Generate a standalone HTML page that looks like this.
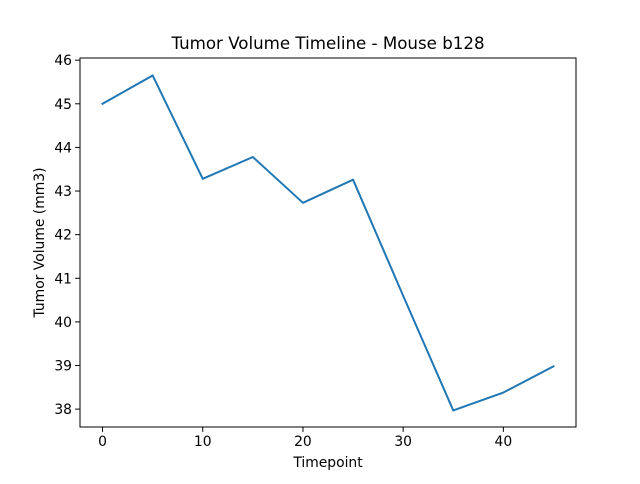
<!DOCTYPE html>
<html><head><meta charset="utf-8"><style>
body{margin:0;background:#fff;font-family:"DejaVu Sans","Liberation Sans",sans-serif;}
svg text{font-family:"DejaVu Sans","Liberation Sans",sans-serif;fill:#000;}
</style></head><body>
<svg id="chart" width="640" height="480">
<rect width="640" height="480" fill="#fff"/>
<text x="328" y="49" font-size="16.67" text-anchor="middle">Tumor Volume Timeline - Mouse b128</text>
<text x="328" y="467" font-size="13.89" text-anchor="middle">Timepoint</text>
<text transform="translate(44,242.5) rotate(-90)" font-size="13.89" text-anchor="middle">Tumor Volume (mm3)</text>
<g id="ticks"></g>
<path id="line" fill="none" stroke="#1f77b4" stroke-width="2" stroke-linejoin="round" stroke-linecap="square"/>
<rect x="80" y="58" width="496" height="369" fill="none" stroke="#000" stroke-width="1"/>
</svg>
<script>
const timepoints=[0,5,10,15,20,25,30,35,40,45];
const volumes=[45.0,45.65,43.28,43.78,42.73,43.26,40.6,37.97,38.38,38.98];
const xTicks=[0,10,20,30,40];
const yTicks=[38,39,40,41,42,43,44,45,46];
const L=80,R=576,T=58,B=427,xmin=-2.25,xmax=47.25,ymin=37.59,ymax=46.05;
function sx(v){return L+(v-xmin)/(xmax-xmin)*(R-L);}
function sy(v){return B-(v-ymin)/(ymax-ymin)*(B-T);}
const ns="http://www.w3.org/2000/svg",g=document.getElementById('ticks');
function mk(t,a){const e=document.createElementNS(ns,t);for(const k in a)e.setAttribute(k,a[k]);g.appendChild(e);return e;}
xTicks.forEach(v=>{const x=sx(v);
const l=mk('line',{x1:x,x2:x,y1:B,y2:B+4.9,stroke:'#000','stroke-width':1});


const t=mk('text',{x:x,y:B+19,'font-size':13.89,'text-anchor':'middle'});t.textContent=v;

});
yTicks.forEach(v=>{const y=sy(v);
const l=mk('line',{x1:L-4.9,x2:L,y1:y,y2:y,stroke:'#000','stroke-width':1});


const t=mk('text',{x:L-8,y:y+5,'font-size':13.89,'text-anchor':'end'});t.textContent=v;

});
document.getElementById('line').setAttribute('d',timepoints.map((t,i)=>(i?'L':'M')+sx(t)+','+sy(volumes[i])).join(''));
</script>
</body></html>
